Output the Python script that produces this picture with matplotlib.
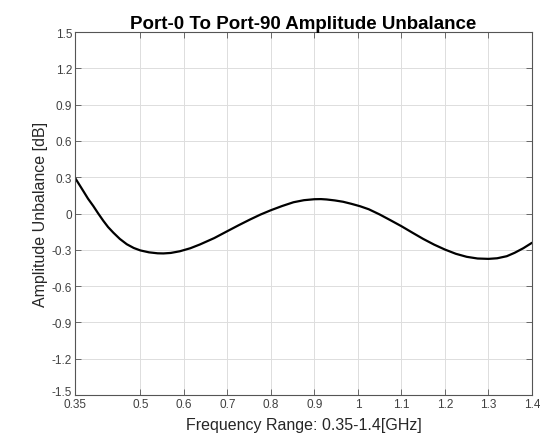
import matplotlib
matplotlib.use("Agg")
import matplotlib.pyplot as plt
import matplotlib.transforms as mtransforms

# frequency [GHz] and amplitude unbalance [dB]
freq = [0.350, 0.360, 0.369, 0.380, 0.392, 0.403, 0.415, 0.426, 0.438, 0.453,
        0.469, 0.485, 0.500, 0.520, 0.540, 0.553, 0.570, 0.591, 0.615, 0.637,
        0.670, 0.700, 0.726, 0.752, 0.776, 0.800, 0.826, 0.852, 0.876, 0.900,
        0.915, 0.928, 0.947, 0.966, 0.985, 1.005, 1.025, 1.050, 1.075, 1.100,
        1.125, 1.150, 1.175, 1.200, 1.225, 1.250, 1.275, 1.300, 1.320, 1.342,
        1.360, 1.380, 1.400]
unbal = [0.295, 0.238, 0.186, 0.122, 0.062, 0.002, -0.060, -0.112, -0.158, -0.210,
         -0.254, -0.285, -0.305, -0.321, -0.329, -0.330, -0.326, -0.312, -0.287, -0.256,
         -0.203, -0.146, -0.097, -0.050, -0.009, 0.027, 0.062, 0.093, 0.110, 0.118,
         0.119, 0.116, 0.108, 0.097, 0.080, 0.060, 0.035, -0.008, -0.056, -0.105,
         -0.158, -0.210, -0.257, -0.298, -0.333, -0.358, -0.372, -0.375, -0.370, -0.353,
         -0.325, -0.287, -0.242]

x_ticks = [0.35, 0.5, 0.6, 0.7, 0.8, 0.9, 1.0, 1.1, 1.2, 1.3, 1.4]
x_labels = ["0.35", "0.5", "0.6", "0.7", "0.8", "0.9", "1", "1.1", "1.2", "1.3", "1.4"]
y_ticks = [1.5, 1.2, 0.9, 0.6, 0.3, 0.0, -0.3, -0.6, -0.9, -1.2, -1.5]
y_labels = ["1.5", "1.2", "0.9", "0.6", "0.3", "0", "-0.3", "-0.6", "-0.9", "-1.2", "-1.5"]

plt.rcParams["font.family"] = ["Liberation Sans", "DejaVu Sans"]

fig = plt.figure(figsize=(5.4, 4.39), dpi=100)
ax = fig.add_axes([75 / 540, 1 - 396 / 439, 457 / 540, 363 / 439])

ax.plot(freq, unbal, color="black", linewidth=1.6, solid_capstyle="round")

ax.set_xlim(0.35, 1.4)
ax.set_ylim(-1.5, 1.5)
ax.set_xticks(x_ticks)
ax.set_xticklabels(x_labels)
ax.set_yticks(y_ticks)
ax.set_yticklabels(y_labels)

tick_color = "#404040"
ax.tick_params(direction="in", length=4, width=0.6, color="#555555",
               labelsize=8.5, labelcolor=tick_color, top=True, right=True, pad=2)
ax.grid(True, color="#dddddd", linewidth=0.7)
for spine in ax.spines.values():
    spine.set_color("#555555")
    spine.set_linewidth(0.8)

# lift the bottom y label a bit so it clears the first x label, as in the original
lift = mtransforms.ScaledTranslation(0, 3 / 72, fig.dpi_scale_trans)
ax.get_yticklabels()[-1].set_transform(ax.get_yticklabels()[-1].get_transform() + lift)

ax.set_title("Port-0 To Port-90 Amplitude Unbalance", fontsize=13.5,
             fontweight="bold", color="black", pad=3)
ax.set_xlabel("Frequency Range: 0.35-1.4[GHz]", fontsize=11.5, color="#262626",
              labelpad=5)
ax.set_ylabel("Amplitude Unbalance [dB]", fontsize=11.5, color="#262626",
              labelpad=3)

fig.savefig("out.png", dpi=100)
